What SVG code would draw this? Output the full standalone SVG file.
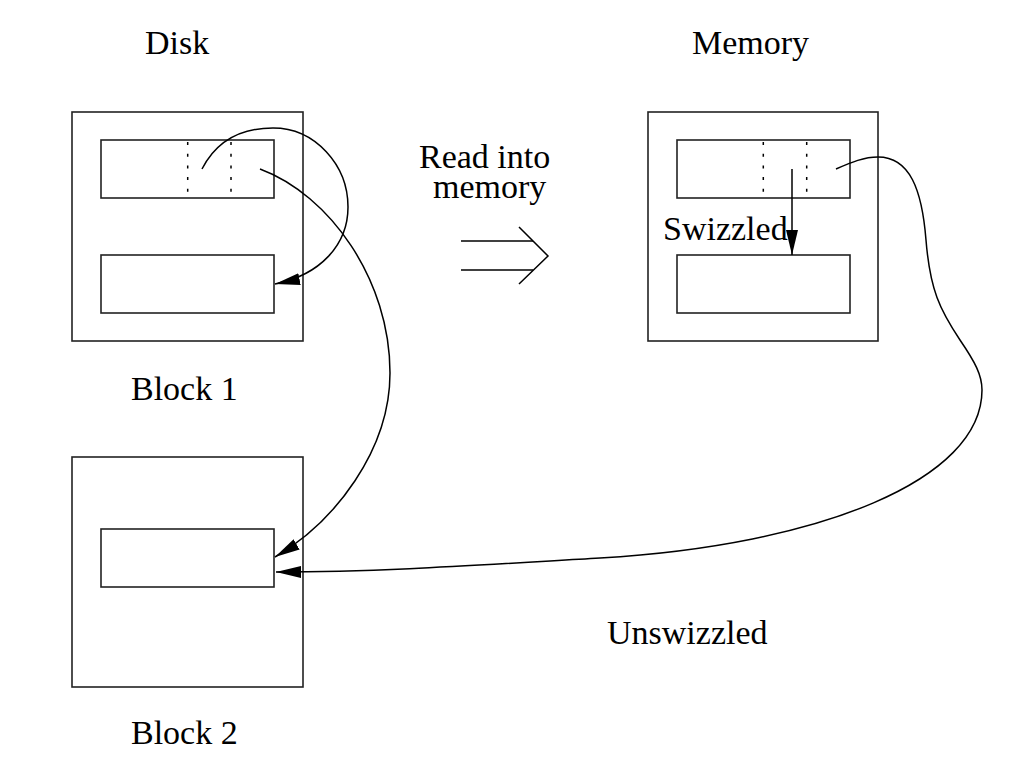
<svg xmlns="http://www.w3.org/2000/svg" width="1034" height="770" viewBox="0 0 1034 770">
<style>
.box{fill:none;stroke:#222;stroke-width:1.6}
.dot{stroke:#000;stroke-width:1.5;stroke-dasharray:3 8.7}
.lbl{font-family:"Liberation Serif","Times New Roman",serif;font-size:34px;fill:#000}
.con{fill:none;stroke:#000;stroke-width:1.5}
</style>
<defs>
<marker id="ah" markerUnits="userSpaceOnUse" markerWidth="26" markerHeight="12" refX="25" refY="6" orient="auto">
<path d="M0,0 L25,6 L0,12 z" fill="#000"/>
</marker>
</defs>
<rect width="1034" height="770" fill="#fff"/>
<g id="disk-block1">
<rect class="box" x="72" y="112" width="231" height="229"/>
<rect class="box" x="101" y="140" width="173" height="58"/>
<line class="dot" x1="187.7" y1="142" x2="187.7" y2="196"/>
<line class="dot" x1="231" y1="142" x2="231" y2="196"/>
<rect class="box" x="101" y="255" width="173" height="58"/>
</g>
<g id="disk-block2">
<rect class="box" x="72" y="457" width="231" height="230"/>
<rect class="box" x="101" y="529" width="173" height="58"/>
</g>
<g id="memory-block">
<rect class="box" x="648" y="112" width="230" height="229"/>
<rect class="box" x="677" y="140" width="173" height="58"/>
<line class="dot" x1="763.3" y1="142" x2="763.3" y2="196"/>
<line class="dot" x1="806.7" y1="142" x2="806.7" y2="196"/>
<rect class="box" x="677" y="255" width="173" height="58"/>
</g>
<g id="read-arrow">
<line class="con" x1="461" y1="241" x2="533" y2="241"/>
<line class="con" x1="461" y1="270" x2="533" y2="270"/>
<polyline class="con" points="519,227 548,256 519,284"/>
</g>
<g id="labels">
<text class="lbl" x="145" y="54">Disk</text>
<text class="lbl" x="692" y="54">Memory</text>
<text class="lbl" x="131" y="400">Block 1</text>
<text class="lbl" x="131" y="744">Block 2</text>
<text class="lbl" x="419" y="168">Read into</text>
<text class="lbl" x="433" y="198">memory</text>
<text class="lbl" x="663" y="240">Swizzled</text>
<text class="lbl" x="607" y="644">Unswizzled</text>
</g>
<g id="connectors">
<path class="con" marker-end="url(#ah)" d="M202,169 C218,138 245,128 273,128 C315,128 348,165 348,207 C348,245 320,275 275,284"/>
<path class="con" marker-end="url(#ah)" d="M260,169 C330,195 390,280 390,373 C390,450 335,522 275,557"/>
<line class="con" marker-end="url(#ah)" x1="792" y1="169" x2="792" y2="255"/>
<path class="con" marker-end="url(#ah)" d="M836,169 C852,162 864,157 878,157 C910,157 922,190 926,240 C930,290 940,310 960,340 C975,362 982,375 982,390 C982,480 820,545 600,558 C480,565 380,572 276,572"/>
</g>
</svg>
